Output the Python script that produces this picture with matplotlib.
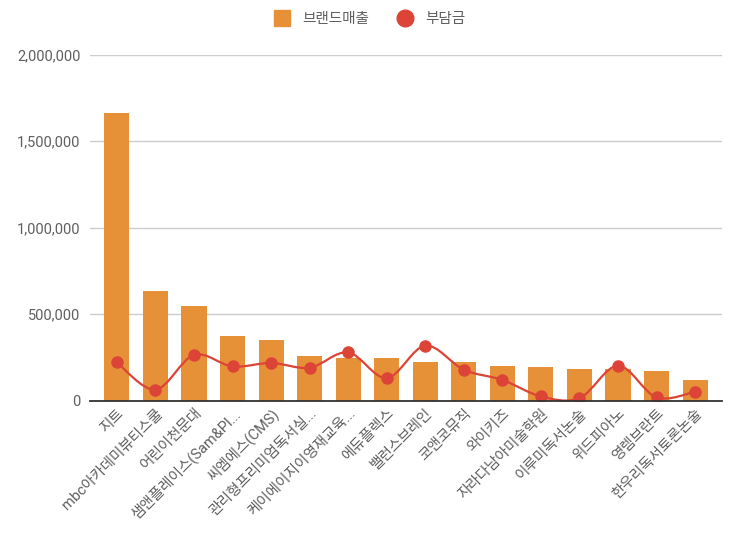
import matplotlib
matplotlib.use("Agg")
import matplotlib.pyplot as plt
import numpy as np
from matplotlib.path import Path
from matplotlib.patches import PathPatch
from matplotlib.lines import Line2D
from matplotlib.ticker import FuncFormatter

plt.rcParams['font.family'] = ['Roboto', 'Noto Sans CJK KR', 'DejaVu Sans']

categories = ["지트", "mbc아카데미뷰티스쿨", "어린이천문대", "샘앤플레이스(Sam&Pl...",
              "씨엠에스(CMS)", "관리형프리미엄독서실...", "케이에이지이영재교육...", "에듀플렉스",
              "밸런스브레인", "코앤코뮤직", "와이키즈", "자라다남아미술학원",
              "이루미독서논술", "위드피아노", "영렘브란트", "한우리독서토론논술"]
brand_sales = [1665000, 636000, 549000, 376000, 353000, 260000, 245000, 245000,
               221000, 221000, 198000, 192000, 185000, 183000, 169000, 120000]
burden = [221000, 64000, 264000, 198000, 218000, 191000, 279000, 131000,
          318000, 179000, 120000, 25000, 15000, 202000, 19000, 52000]
series_names = ["브랜드매출", "부담금"]
yticks = [0, 500000, 1000000, 1500000, 2000000]

bar_color = "#e69138"
line_color = "#dc4437"
text_color = "#5f5f5f"

fig = plt.figure(figsize=(7.30, 5.46), dpi=100)
ax = fig.add_axes([90/730, 1-400.7/546, 632/730, (400.7-54.7)/546])

x = np.arange(len(categories))
ax.bar(x, brand_sales, width=0.65, color=bar_color, zorder=2)

# smooth curve (Catmull-Rom -> cubic bezier)
pts = np.column_stack([x, burden]).astype(float)
verts = [tuple(pts[0])]
codes = [Path.MOVETO]
n = len(pts)
for i in range(n - 1):
    p0 = pts[i - 1] if i > 0 else pts[i]
    p1 = pts[i]
    p2 = pts[i + 1]
    p3 = pts[i + 2] if i + 2 < n else pts[i + 1]
    c1 = p1 + (p2 - p0) / 6.0
    c2 = p2 - (p3 - p1) / 6.0
    verts += [tuple(c1), tuple(c2), tuple(p2)]
    codes += [Path.CURVE4, Path.CURVE4, Path.CURVE4]
ax.add_patch(PathPatch(Path(verts, codes), facecolor='none', edgecolor=line_color,
                       lw=1.6, zorder=3, clip_on=False))
ax.plot(x, burden, 'o', color=line_color, markersize=8, zorder=4)

ax.set_ylim(0, 2000000)
ax.set_xlim(-0.697, len(categories) - 1 + 0.697)
ax.set_yticks(yticks)
ax.yaxis.set_major_formatter(FuncFormatter(lambda v, p: f"{int(v):,}"))
ax.grid(axis='y', color='#cccccc', lw=1, zorder=0)
ax.set_axisbelow(True)
for s in ['top', 'right', 'left']:
    ax.spines[s].set_visible(False)
ax.spines['bottom'].set_color('#333333')
ax.spines['bottom'].set_linewidth(1.3)
ax.spines['bottom'].set_zorder(5)
ax.tick_params(axis='y', length=0, pad=7, labelsize=10.5, labelcolor=text_color)
ax.tick_params(axis='x', length=0, pad=4, labelsize=10.5, labelcolor=text_color)
ax.set_xticks(x)
ax.set_xticklabels(categories, rotation=45, ha='right', va='top', rotation_mode='anchor')

handles = [Line2D([], [], marker='s', color=bar_color, linestyle='none', markersize=11),
           Line2D([], [], marker='o', color=line_color, linestyle='none', markersize=12)]
fig.legend(handles, series_names, loc='center', bbox_to_anchor=(366/730, 1-19/546),
           ncol=2, frameon=False, fontsize=10.5, labelcolor=text_color,
           handletextpad=0.4, columnspacing=1.45, borderaxespad=0.0)

fig.savefig("out.png", dpi=100)
